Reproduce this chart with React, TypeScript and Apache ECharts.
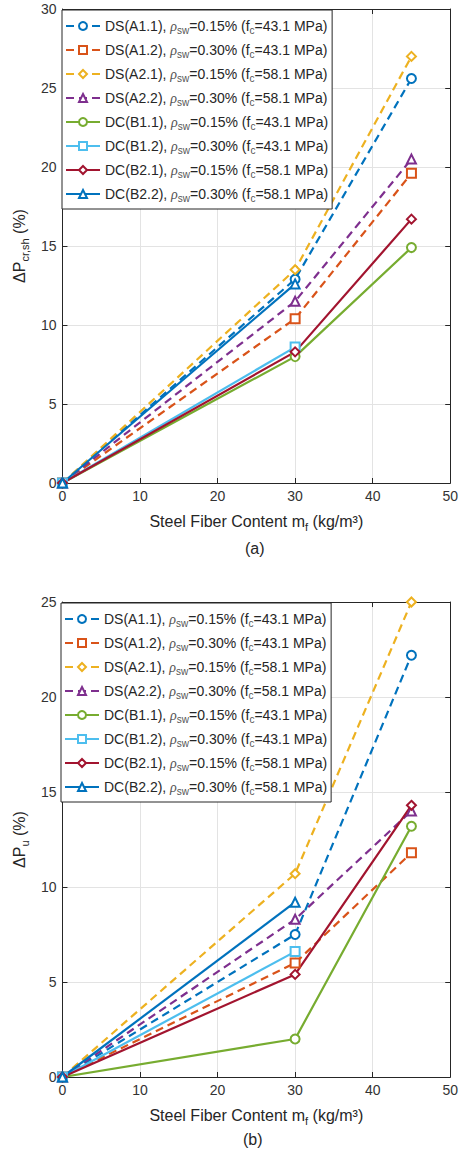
import React, { useEffect, useRef } from "react";
import * as echarts from "echarts";

// ---- data ----
const xFull = [0, 30, 45];
const xShort = [0, 30];

const seriesNames = ["DS(A1.1)", "DS(A1.2)", "DS(A2.1)", "DS(A2.2)", "DC(B1.1)", "DC(B1.2)", "DC(B2.1)", "DC(B2.2)"];
const rhoSw = ["0.15", "0.30", "0.15", "0.30", "0.15", "0.30", "0.15", "0.30"];
const fcValues = ["43.1", "43.1", "58.1", "58.1", "43.1", "43.1", "58.1", "58.1"];

// (a) crack load increase ΔP_cr,sh (%)
const crA11 = [0, 12.9, 25.6];
const crA12 = [0, 10.4, 19.6];
const crA21 = [0, 13.5, 27.0];
const crA22 = [0, 11.5, 20.5];
const crB11 = [0, 8.0, 14.9];
const crB12 = [0, 8.6];
const crB21 = [0, 8.3, 16.7];
const crB22 = [0, 12.6];

// (b) ultimate load increase ΔP_u (%)
const uA11 = [0, 7.5, 22.2];
const uA12 = [0, 6.0, 11.8];
const uA21 = [0, 10.7, 25.0];
const uA22 = [0, 8.3, 14.0];
const uB11 = [0, 2.0, 13.2];
const uB12 = [0, 6.6];
const uB21 = [0, 5.4, 14.3];
const uB22 = [0, 9.2];

// ---- styles ----
const colors = ["#0072BD", "#D95319", "#EDB120", "#7E2F8E", "#77AC30", "#4DBEEE", "#A2142F", "#0072BD"];
const symbols = ["emptyCircle", "emptyRect", "emptyDiamond", "emptyTriangle", "emptyCircle", "emptyRect", "emptyDiamond", "emptyTriangle"];
const dashed = [true, true, true, true, false, false, false, false];

const FONT = "Liberation Sans, Arial, sans-serif";
const AX = "#262626";

export default function App() {
  const ref = useRef<HTMLDivElement>(null);

  useEffect(() => {
    if (!ref.current) return;
    const chart = echarts.init(ref.current, null, { renderer: "svg" });

    const crData = [crA11, crA12, crA21, crA22, crB11, crB12, crB21, crB22];
    const uData = [uA11, uA12, uA21, uA22, uB11, uB12, uB21, uB22];

    const mkSeries = (g: number, sets: number[][]) =>
      sets.map((vals, i) => {
        const xs = vals.length === 3 ? xFull : xShort;
        return {
          type: "line",
          name: seriesNames[i],
          xAxisIndex: g,
          yAxisIndex: g,
          data: vals.map((v, j) => [xs[j], v]),
          symbol: symbols[i],
          symbolSize: 9,
          showSymbol: true,
          lineStyle: { color: colors[i], width: 2.2, type: dashed[i] ? [8, 5] : "solid" },
          itemStyle: { color: colors[i], borderColor: colors[i], borderWidth: 2.2 },
          emphasis: { disabled: true },
        };
      });

    const grids = [
      { left: 62, top: 9, width: 391, height: 474 },
      { left: 61, top: 602, width: 391, height: 475 },
    ];

    const nameStyle = {
      fontFamily: FONT,
      fontSize: 16,
      color: AX,
      lineHeight: 22,
      rich: { sub: { fontFamily: FONT, fontSize: 11, lineHeight: 11, verticalAlign: "bottom", color: AX } },
    };

    const xMain = (g: number) => ({
      type: "value",
      gridIndex: g,
      min: 0,
      max: 50,
      interval: 10,
      position: "bottom",
      name: "Steel Fiber Content m{sub|f} (kg/m³)",
      nameLocation: "middle",
      nameGap: 27,
      nameTextStyle: nameStyle,
      axisLine: { show: true, onZero: false, lineStyle: { color: AX, width: 1 } },
      axisTick: { show: true, inside: true, length: 5, lineStyle: { color: AX } },
      axisLabel: { color: "#333", fontSize: 14, fontFamily: FONT, margin: 6 },
      splitLine: { show: true, lineStyle: { color: "#e3e3e3", width: 1 } },
    });
    const xTop = (g: number) => ({
      type: "value",
      gridIndex: g,
      min: 0,
      max: 50,
      interval: 10,
      position: "top",
      axisLine: { show: true, onZero: false, lineStyle: { color: AX, width: 1 } },
      axisTick: { show: true, inside: true, length: 5, lineStyle: { color: AX } },
      axisLabel: { show: false },
      splitLine: { show: false },
    });
    const yMain = (g: number, max: number, label: string) => ({
      type: "value",
      gridIndex: g,
      min: 0,
      max,
      interval: 5,
      position: "left",
      name: label,
      nameLocation: "middle",
      nameGap: 30,
      nameRotate: 90,
      nameTextStyle: nameStyle,
      axisLine: { show: true, onZero: false, lineStyle: { color: AX, width: 1 } },
      axisTick: { show: true, inside: true, length: 5, lineStyle: { color: AX } },
      axisLabel: { color: "#333", fontSize: 14, fontFamily: FONT, margin: 6 },
      splitLine: { show: true, lineStyle: { color: "#e3e3e3", width: 1 } },
    });
    const yRight = (g: number, max: number) => ({
      type: "value",
      gridIndex: g,
      min: 0,
      max,
      interval: 5,
      position: "right",
      axisLine: { show: true, onZero: false, lineStyle: { color: AX, width: 1 } },
      axisTick: { show: true, inside: true, length: 5, lineStyle: { color: AX } },
      axisLabel: { show: false },
      splitLine: { show: false },
    });

    const legendFormatter = (name: string) => {
      const i = seriesNames.indexOf(name);
      return `${name}, {rho|ρ}{sub|sw}=${rhoSw[i]}% (f{sub|c}=${fcValues[i]} MPa)`;
    };
    const mkLegend = (left: number, top: number) => ({
      data: seriesNames,
      orient: "vertical",
      left,
      top,
      itemWidth: 34,
      itemHeight: 10,
      itemGap: 6,
      padding: [7, 4, 6, 3],
      borderColor: "#262626",
      borderWidth: 1,
      backgroundColor: "#ffffff",
      selectedMode: false,
      formatter: legendFormatter,
      textStyle: {
        fontFamily: FONT,
        fontSize: 14,
        color: AX,
        lineHeight: 18,
        rich: {
          rho: { fontFamily: "Liberation Serif, serif", fontStyle: "italic", fontSize: 14, color: "#555" },
          sub: { fontFamily: FONT, fontSize: 10, lineHeight: 10, verticalAlign: "bottom", color: "#555" },
        },
      },
    });

    chart.setOption({
      animation: false,
      backgroundColor: "#ffffff",
      grid: grids,
      xAxis: [xMain(0), xMain(1), xTop(0), xTop(1)],
      yAxis: [
        yMain(0, 30, "ΔP{sub|cr,sh} (%)"),
        yMain(1, 25, "ΔP{sub|u} (%)"),
        yRight(0, 30),
        yRight(1, 25),
      ],
      legend: [mkLegend(62, 10), mkLegend(61, 603)],
      series: [...mkSeries(0, crData), ...mkSeries(1, uData)],
      graphic: [
        { type: "text", left: 245, top: 540, style: { text: "(a)", fontFamily: FONT, fontSize: 16, fill: AX } },
        { type: "text", left: 243, top: 1131, style: { text: "(b)", fontFamily: FONT, fontSize: 16, fill: AX } },
      ],
    });

    return () => chart.dispose();
  }, []);

  return (
    <div
      ref={ref}
      style={{ position: "absolute", left: 0, top: 0, width: 461, height: 1155 }}
    />
  );
}
